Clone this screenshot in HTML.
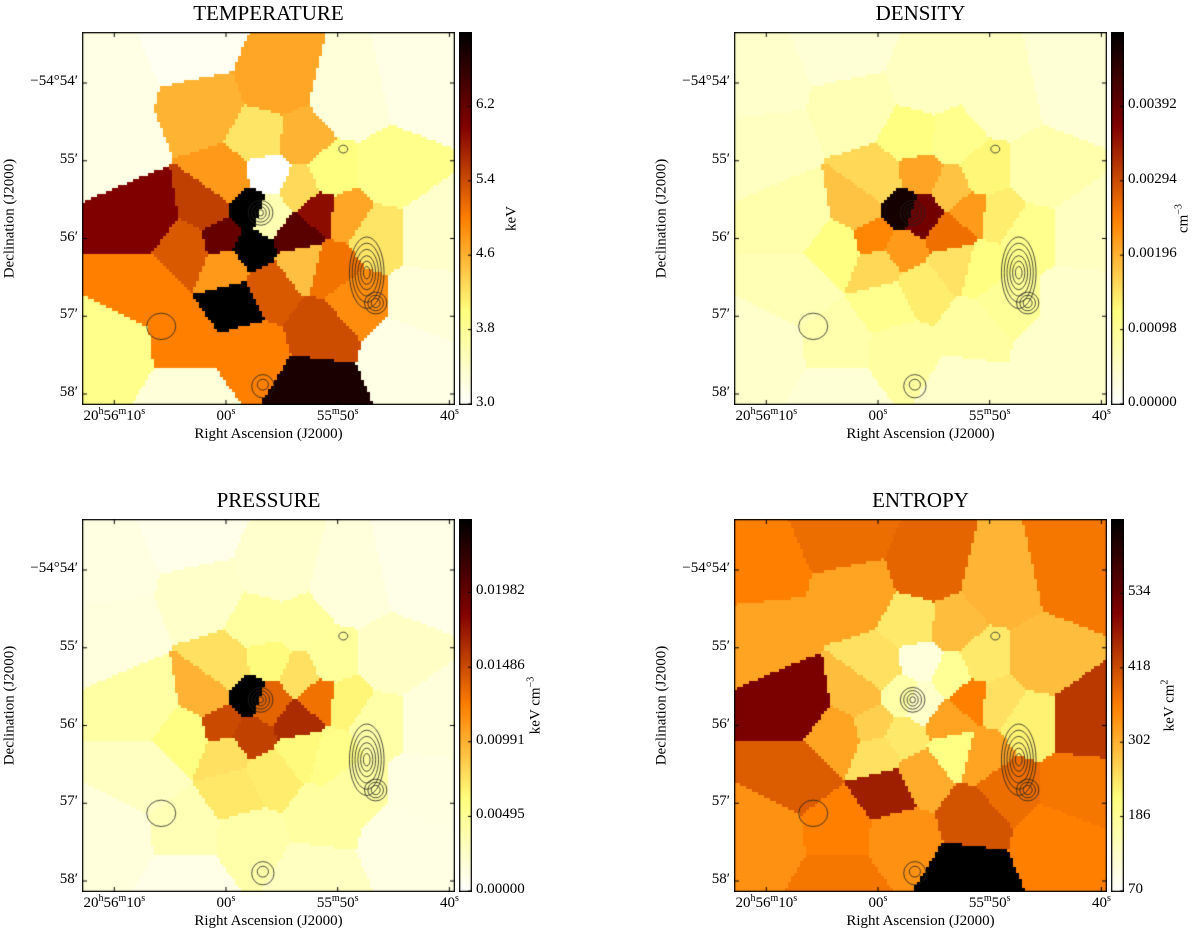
<!DOCTYPE html>
<html><head><meta charset="utf-8">
<style>
body{margin:0;background:#fff;width:1200px;height:938px;overflow:hidden;font-family:"Liberation Serif",serif;color:#000}
.abs{position:absolute}
.title{font-size:21px;text-align:center;width:373px}
.tick{font-size:15px;white-space:nowrap}
sup{font-size:10px;vertical-align:6px;line-height:0}
</style></head>
<body>
<div id="root"></div>
<script>
// ----- data -----
const siteRa  = [70.6,62.0,55.6,49.4,42.6,63.1,45.7,50.8,70.0,56.9,53.5,67.2,61.7,56.3,53.5,60.0,60.4,58.1,58.0,56.3,53.7,51.8,49.4,46.7,41.9,67.2,63.7,60.0,53.2,50.8,59.1,56.3,51.5,70.0,63.7,58.0,52.2,44.3,63.7,42.6,48.7];
const siteDec = [54.00,54.31,54.00,54.22,54.00,53.54,55.16,55.16,54.77,54.69,54.73,55.72,55.59,55.16,55.34,55.25,55.98,56.12,55.59,55.67,55.93,55.63,55.67,55.93,55.93,56.62,56.11,56.32,56.28,56.37,56.82,56.62,57.14,57.43,57.31,57.40,57.91,57.43,57.99,56.79,56.79];
const tempVals = [3.2,4.6,4.7,3.3,3.2,3.1,3.9,4.0,3.2,4.2,4.6,6.0,5.5,3.0,4.3,4.8,6.2,7.0,7.0,3.6,6.3,5.9,4.7,4.2,3.4,5.0,5.3,4.8,4.5,5.1,7.0,5.3,5.4,3.9,5.0,5.0,6.8,3.2,3.3,3.3,4.9];
const densVals = [0.0005,0.0007,0.0006,0.0006,0.0004,0.0004,0.0008,0.0013,0.0006,0.0012,0.0011,0.0008,0.0018,0.0021,0.0018,0.0016,0.0024,0.0022,0.0047,0.0038,0.0026,0.0022,0.0014,0.0011,0.0006,0.0007,0.0012,0.0016,0.0015,0.0012,0.0011,0.0014,0.0009,0.0005,0.0008,0.0009,0.0005,0.0005,0.0004,0.0005,0.0010];
const presVals = [0.0014,0.0026,0.0024,0.0017,0.0011,0.0010,0.0028,0.0048,0.0016,0.0046,0.0047,0.0044,0.0099,0.0063,0.0077,0.0077,0.0149,0.0154,0.0300,0.0137,0.0164,0.0130,0.0066,0.0042,0.0017,0.0030,0.0060,0.0077,0.0064,0.0057,0.0073,0.0070,0.0045,0.0017,0.0036,0.0041,0.0030,0.0013,0.0011,0.0014,0.0045];
const entrVals = [360,320,390,300,370,380,290,240,320,240,290,510,290,110,190,250,270,240,170,130,320,360,250,230,440,400,320,250,210,320,470,310,410,340,360,340,650,360,370,370,380];
const tempTicks = ["3.0","3.8","4.6","5.4","6.2"];
const densTicks = ["0.00000","0.00098","0.00196","0.00294","0.00392"];
const presTicks = ["0.00000","0.00495","0.00991","0.01486","0.01982"];
const entrTicks = ["70","186","302","418","534"];
const raTicks = [70,60,50,40];
const raLabels = ["20<sup>h</sup>56<sup>m</sup>10<sup>s</sup>","00<sup>s</sup>","55<sup>m</sup>50<sup>s</sup>","40<sup>s</sup>"];
const decTicks = [54,55,56,57,58];
const decLabels = ["&minus;54&deg;54&prime;","55&prime;","56&prime;","57&prime;","58&prime;"];
const contRa  = [56.9,56.9,56.9,56.9,47.4,47.4,47.4,47.4,47.4,47.4,46.6,46.6,46.6,56.7,56.7,65.8,49.5,36.0];
const contDec = [55.67,55.67,55.67,55.67,56.44,56.44,56.44,56.44,56.44,56.44,56.83,56.83,56.83,57.88,57.9,57.13,54.85,56.05];
const contRx  = [0.25,0.5,0.8,1.1,0.3,0.55,0.8,1.05,1.3,1.55,0.4,0.7,1.0,0.5,1.0,1.3,0.4,0.3];
const contRy  = [0.04,0.08,0.12,0.16,0.08,0.15,0.22,0.3,0.38,0.46,0.06,0.1,0.14,0.07,0.15,0.17,0.05,0.04];

const panels = [
 {name:"temperature",title:"TEMPERATURE",ox:82,oy:32,vals:tempVals,vmin:3.0,vmax:7.0,ticks:tempTicks,unit:"keV",uoff:57},
 {name:"density",title:"DENSITY",ox:734,oy:32,vals:densVals,vmin:0,vmax:0.0049,ticks:densTicks,unit:"cm<sup>&minus;3</sup>",uoff:77},
 {name:"pressure",title:"PRESSURE",ox:82,oy:519,vals:presVals,vmin:0,vmax:0.0247,ticks:presTicks,unit:"keV cm<sup>&minus;3</sup>",uoff:81},
 {name:"entropy",title:"ENTROPY",ox:734,oy:519,vals:entrVals,vmin:70,vmax:650,ticks:entrTicks,unit:"keV cm<sup>2</sup>",uoff:63}
];
const W=373,H=373;
function xScale(ra){return 144+(60-ra)*11.17;}
function yScale(dec){return 51+(dec-54)*77.75;}
function cmap(v){const t=1-Math.max(0,Math.min(1,v));const c=x=>Math.round(255*Math.max(0,Math.min(1,x)));return [c(2*t),c(2*t-0.5),c(2*t-1)];}
const root=document.getElementById('root');
function add(html){const d=document.createElement('div');d.innerHTML=html;const e=d.firstElementChild;root.appendChild(e);return e;}

panels.forEach(p=>{
  const t=add(`<div class="abs title" style="left:${p.ox}px;top:${p.oy-31}px"></div>`);
  t.textContent=p.title;
  
  
  const cv=document.createElement('canvas');
  cv.width=W;cv.height=H;cv.className='abs';
  cv.style.left=p.ox+'px';cv.style.top=p.oy+'px';
  
  
  root.appendChild(cv);
  const ctx=cv.getContext('2d');
  const sx=siteRa.map(xScale), sy=siteDec.map(yScale);
  const B=3;
  for(let y=0;y<H;y+=B)for(let x=0;x<W;x+=B){
    let bi=0,bd=1e9;
    for(let i=0;i<sx.length;i++){const d=(sx[i]-x)**2+(sy[i]-y)**2;if(d<bd){bd=d;bi=i;}}
    const c=cmap((p.vals[bi]-p.vmin)/(p.vmax-p.vmin));
    ctx.fillStyle=`rgb(${c[0]},${c[1]},${c[2]})`;ctx.fillRect(x,y,B,B);
  }
  ctx.strokeStyle='#222';ctx.lineWidth=0.8;
  for(let i=0;i<contRa.length;i++){
    ctx.beginPath();ctx.ellipse(xScale(contRa[i]),yScale(contDec[i]),contRx[i]*11.17,contRy[i]*77.75,0,0,Math.PI*2);ctx.stroke();
  }
  ctx.strokeStyle='#000';ctx.lineWidth=1.5;ctx.strokeRect(0.5,0.5,W-1,H-1);
  ctx.lineWidth=1;
  raTicks.forEach(r=>{const x=xScale(r);ctx.beginPath();ctx.moveTo(x,0);ctx.lineTo(x,5);ctx.moveTo(x,H);ctx.lineTo(x,H-5);ctx.stroke();});
  decTicks.forEach(d=>{const y=yScale(d);ctx.beginPath();ctx.moveTo(0,y);ctx.lineTo(5,y);ctx.moveTo(W,y);ctx.lineTo(W-5,y);ctx.stroke();});
  raTicks.forEach((r,i)=>{
    const e=add(`<div class="abs tick" style="left:${p.ox+xScale(r)-60}px;width:120px;text-align:center;top:${p.oy+H+3}px">${raLabels[i]}</div>`);
    
    
  });
  decTicks.forEach((d,i)=>{
    const e=add(`<div class="abs tick" style="left:${p.ox-104}px;width:100px;text-align:right;top:${p.oy+yScale(d)-10}px">${decLabels[i]}</div>`);
    
    
  });
  const xt=add(`<div class="abs tick" style="left:${p.ox}px;width:${W}px;text-align:center;top:${p.oy+H+21}px">Right Ascension (J2000)</div>`);
  
  
  const yt=add(`<div class="abs tick" style="left:${p.ox-172}px;width:200px;text-align:center;top:${p.oy+H/2-9}px;transform:rotate(-90deg)">Declination (J2000)</div>`);
  
  
  const cb=document.createElement('canvas');cb.width=13;cb.height=H;cb.className='abs';
  cb.style.left=(p.ox+W+4)+'px';cb.style.top=p.oy+'px';
  
  
  root.appendChild(cb);
  const c2=cb.getContext('2d');
  for(let y=0;y<H;y++){const c=cmap(1-y/(H-1));c2.fillStyle=`rgb(${c[0]},${c[1]},${c[2]})`;c2.fillRect(0,y,13,1);}
  c2.strokeStyle='#000';c2.lineWidth=1.5;c2.strokeRect(0.5,0.5,12,H-1);
  p.ticks.forEach(tk=>{
    const v=parseFloat(tk);const y=(H-1)*(1-(v-p.vmin)/(p.vmax-p.vmin));
    c2.lineWidth=1;c2.beginPath();c2.moveTo(13,y);c2.lineTo(9,y);c2.stroke();
    const e=add(`<div class="abs tick" style="left:${p.ox+W+21}px;top:${p.oy+y-10}px">${tk}</div>`);
    
    
  });
  const ut=add(`<div class="abs tick" style="left:${p.ox+W+p.uoff-60}px;width:120px;text-align:center;top:${p.oy+H/2-9}px;transform:rotate(-90deg)">${p.unit}</div>`);
  
  
});
</script>
</body></html>
